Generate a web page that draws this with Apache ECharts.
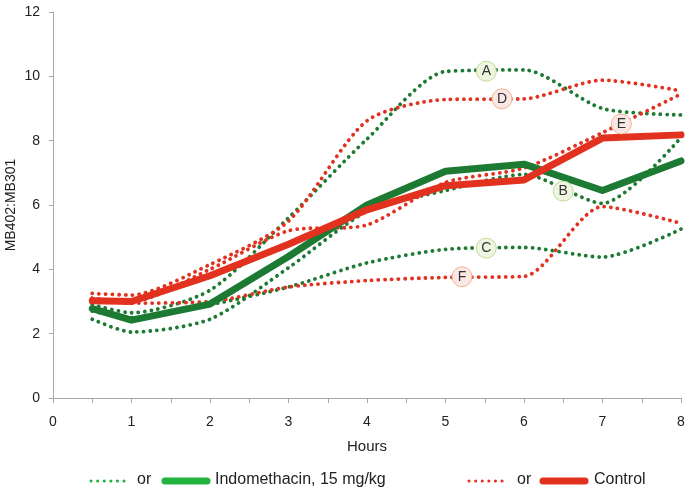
<!DOCTYPE html>
<html>
<head>
<meta charset="utf-8">
<script src="https://cdn.jsdelivr.net/npm/echarts@6/dist/echarts.min.js"></script>
<style>
  html, body { margin: 0; padding: 0; background: #fff; }
  #chart { width: 700px; height: 491px; }
</style>
</head>
<body>
<div id="chart"></div>
<script>
// hours sampled
const hours = [0.5, 1, 2, 3, 4, 5, 6, 7, 8]
// mean curves
const control = [3.02, 3.0, 3.8, 4.78, 5.85, 6.6, 6.78, 8.08, 8.18]
const indomethacin = [2.78, 2.42, 2.92, 4.4, 6.0, 7.05, 7.27, 6.45, 7.37]
// individual animals, indomethacin (green)
const animalA = [2.9, 2.65, 3.35, 5.6, 8.05, 10.15, 10.2, 9.0, 8.8]
const animalB = [2.45, 2.05, 2.45, 4.05, 5.8, 6.45, 6.95, 6.05, 8.1]
const animalC = [2.7, 2.5, 2.9, 3.45, 4.2, 4.62, 4.68, 4.38, 5.25]
// individual animals, control (red)
const animalD = [3.25, 3.2, 4.15, 5.5, 8.62, 9.28, 9.3, 9.88, 9.55]
const animalE = [3.1, 3.0, 4.0, 5.2, 5.38, 6.7, 7.15, 8.25, 9.45]
const animalF = [3.1, 2.95, 3.0, 3.45, 3.65, 3.75, 3.78, 5.95, 5.43]
// where the circled letters sit [hour, value]
const letterA = [5.52, 10.16]
const letterB = [6.5, 6.43]
const letterC = [5.52, 4.66]
const letterD = [5.72, 9.3]
const letterE = [7.24, 8.52]
const letterF = [5.21, 3.77]
const yTicks = [0, 2, 4, 6, 8, 10, 12]

const GREEN = '#1c7a33'
const RED = '#e2311e'
const FONT = 'Liberation Sans, Arial, sans-serif'

const chart = echarts.init(document.getElementById('chart'))

function pairs (vals) {
  return hours.map((h, i) => [h, vals[i]])
}

function dotted (name, vals, color, letter, pos) {
  const green = color === GREEN
  return {
    name: name,
    type: 'line',
    data: pairs(vals),
    smooth: 0.25,
    showSymbol: false,
    lineStyle: { color: color, width: 3.8, type: [0.1, 6.6], cap: 'round' },
    z: 2,
    markPoint: {
      symbol: 'circle',
      symbolSize: 20,
      itemStyle: {
        color: green ? '#eef6e0' : '#fbe8e6',
        borderColor: green ? '#c2da98' : '#f2b48c',
        borderWidth: 1
      },
      label: { show: true, formatter: letter, color: '#333', fontSize: 14, fontFamily: FONT },
      data: [{ coord: pos }],
      z: 5
    }
  }
}

function thick (name, vals, color) {
  return {
    name: name,
    type: 'line',
    data: pairs(vals),
    showSymbol: false,
    lineStyle: { color: color, width: 7, cap: 'round', join: 'round' },
    z: 3
  }
}

const option = {
  animation: false,
  grid: { left: 53, right: 19, top: 12, bottom: 93, outerBoundsMode: 'none', containLabel: false },
  xAxis: {
    type: 'value',
    min: 0,
    max: 8,
    interval: 1,
    name: 'Hours',
    nameLocation: 'middle',
    nameGap: 41,
    nameTextStyle: { color: '#222', fontSize: 15, fontFamily: FONT },
    axisLine: { lineStyle: { color: '#a8a8a8', width: 1 } },
    axisTick: { show: true, length: 5, lineStyle: { color: '#a8a8a8' } },
    minorTick: { show: true, splitNumber: 2, length: 5, lineStyle: { color: '#a8a8a8' } },
    axisLabel: { color: '#222', fontSize: 14, margin: 17, fontFamily: FONT },
    splitLine: { show: false }
  },
  yAxis: {
    type: 'value',
    min: yTicks[0],
    max: yTicks[yTicks.length - 1],
    interval: 2,
    name: 'MB402:MB301',
    nameLocation: 'middle',
    nameGap: 35,
    nameMoveOverlap: false,
    nameTextStyle: { color: '#222', fontSize: 14, fontFamily: FONT },
    axisLine: { show: true, lineStyle: { color: '#a8a8a8', width: 1 } },
    axisTick: { show: true, length: 4, lineStyle: { color: '#a8a8a8' } },
    axisLabel: { color: '#222', fontSize: 14, margin: 13, fontFamily: FONT },
    splitLine: { show: false }
  },
  series: [
    dotted('A', animalA, GREEN, 'A', letterA),
    dotted('B', animalB, GREEN, 'B', letterB),
    dotted('C', animalC, GREEN, 'C', letterC),
    dotted('D', animalD, RED, 'D', letterD),
    dotted('E', animalE, RED, 'E', letterE),
    dotted('F', animalF, RED, 'F', letterF),
    thick('Indomethacin, 15 mg/kg', indomethacin, GREEN),
    thick('Control', control, RED)
  ],
  graphic: [
    // legend, green group
    { type: 'line', shape: { x1: 91, y1: 481, x2: 130, y2: 481 }, style: { stroke: '#22b23f', lineWidth: 3, lineDash: [0.1, 6.5], lineCap: 'round' } },
    { type: 'text', left: 137, top: 472, style: { text: 'or', fill: '#222', fontSize: 16, fontFamily: FONT } },
    { type: 'line', shape: { x1: 165, y1: 481, x2: 207, y2: 481 }, style: { stroke: '#22b23f', lineWidth: 7, lineCap: 'round' } },
    { type: 'text', left: 215, top: 472, style: { text: 'Indomethacin, 15 mg/kg', fill: '#222', fontSize: 16, fontFamily: FONT } },
    // legend, red group
    { type: 'line', shape: { x1: 469, y1: 481, x2: 507, y2: 481 }, style: { stroke: RED, lineWidth: 3, lineDash: [0.1, 6.5], lineCap: 'round' } },
    { type: 'text', left: 517, top: 472, style: { text: 'or', fill: '#222', fontSize: 16, fontFamily: FONT } },
    { type: 'line', shape: { x1: 543, y1: 481, x2: 585, y2: 481 }, style: { stroke: RED, lineWidth: 7, lineCap: 'round' } },
    { type: 'text', left: 594, top: 472, style: { text: 'Control', fill: '#222', fontSize: 16, fontFamily: FONT } }
  ]
}

chart.setOption(option)
</script>
</body>
</html>
